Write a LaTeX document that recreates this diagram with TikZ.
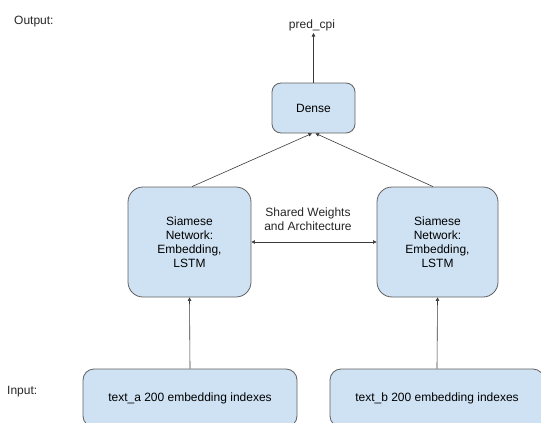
\documentclass[tikz,border=0pt]{standalone}
\usepackage{fontspec}
\setmainfont{Liberation Sans}
\usetikzlibrary{arrows.meta}
\definecolor{boxfill}{HTML}{CFE2F3}
\definecolor{boxline}{HTML}{5F5F5F}
\definecolor{arrowc}{HTML}{3A3A3A}
\begin{document}
\begin{tikzpicture}[x=1pt,y=-1pt,
  font=\fontsize{12}{14}\selectfont,
  blk/.style={draw=boxline,fill=boxfill,line width=0.8pt,align=center,inner sep=0pt},
  lbl/.style={inner sep=0pt,align=center,text=black!85},
  conn/.style={draw=arrowc,line width=0.6pt,-{Triangle[length=3.5pt,width=3.5pt]}},
  conn2/.style={draw=arrowc,line width=0.6pt,{Triangle[length=3.5pt,width=3.5pt]}-{Triangle[length=3.5pt,width=3.5pt]}}]
\useasboundingbox (0,0) rectangle (541,423);
\clip (0,0) rectangle (541,423);
\node[blk,rounded corners=9pt,minimum width=83pt,minimum height=50pt] (dense) at (313.5,108) {Dense};
\node[blk,rounded corners=15pt,minimum width=123pt,minimum height=110pt] (sl) at (189.5,242) {Siamese\\Network:\\Embedding,\\LSTM};
\node[blk,rounded corners=15pt,minimum width=121pt,minimum height=110pt] (sr) at (437.5,242) {Siamese\\Network:\\Embedding,\\LSTM};
\node[blk,rounded corners=11pt,minimum width=214pt,minimum height=58pt] (bl) at (190,398) {text\_a 200 embedding indexes};
\node[blk,rounded corners=11pt,minimum width=214pt,minimum height=58pt] (br) at (437,398) {text\_b 200 embedding indexes};
\node[lbl] (pred) at (312,25) {pred\_cpi};
\coordinate (predtip) at (313.5,33);
\node[lbl,anchor=west] (out) at (14,22) {Output:};
\node[lbl,anchor=west] (inp) at (7,392) {Input:};
\node[lbl] (shared) at (308,219) {Shared Weights\\and Architecture};
\draw[conn] (dense.north) -- (predtip);
\draw[conn] ([xshift=2.5pt]sl.north) -- ([xshift=-1.5pt]dense.south);
\draw[conn] ([xshift=-4.5pt]sr.north) -- ([xshift=2pt]dense.south);
\draw[conn2] (sl.east) -- (sr.west);
\draw[conn] (bl.north) -- (sl.south);
\draw[conn] (br.north) -- (sr.south);
\end{tikzpicture}
\end{document}
